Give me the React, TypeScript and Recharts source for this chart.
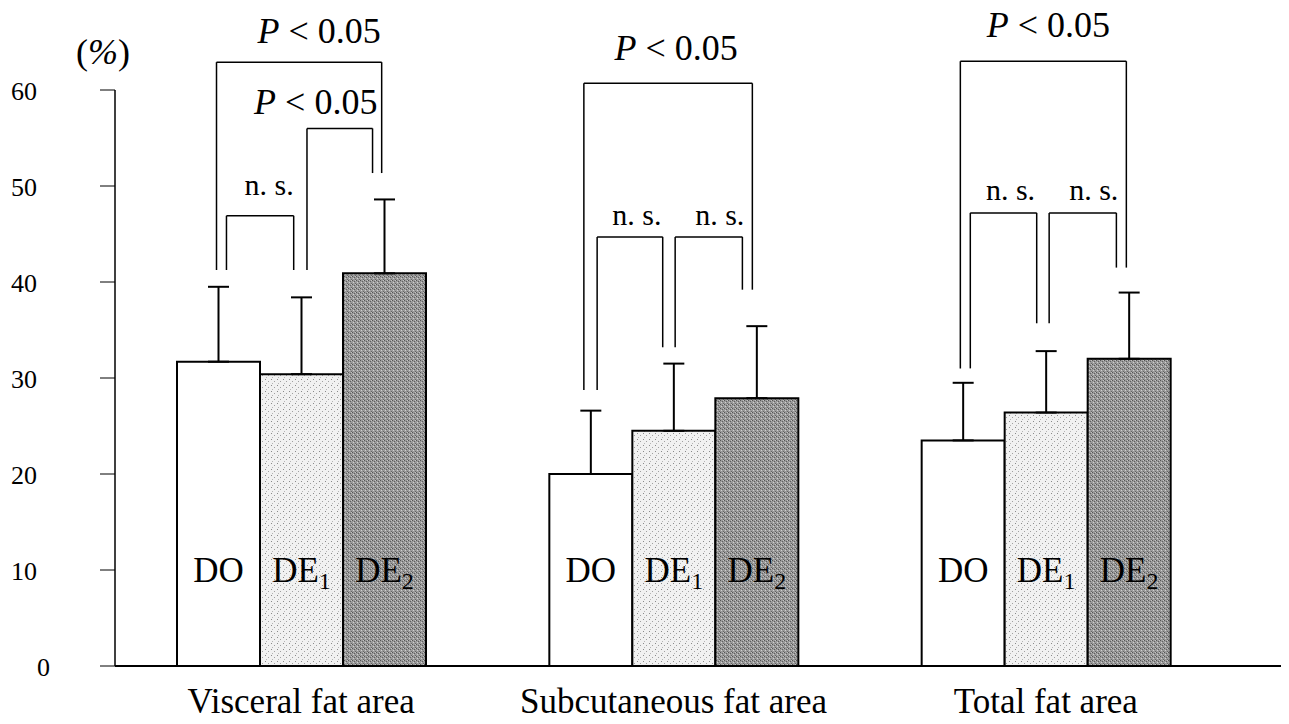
import React from 'react';
import { BarChart, Bar, XAxis, YAxis, ErrorBar, ReferenceLine, LabelList, Label } from 'recharts';

const categories = ['Visceral fat area', 'Subcutaneous fat area', 'Total fat area'];
const doMeans = [31.7, 20.0, 23.5];
const de1Means = [30.4, 24.5, 26.4];
const de2Means = [40.9, 27.9, 32.0];
const doSD = [7.8, 6.6, 6.0];
const de1SD = [8.0, 7.0, 6.4];
const de2SD = [7.7, 7.5, 6.9];
const yTicks = [0, 10, 20, 30, 40, 50, 60];

// significance brackets (group, bar from, bar to, top value, leg ends, label)
const brGroup = [0, 0, 0, 1, 1, 1, 2, 2, 2];
const brFrom = [0, 0, 1, 0, 0, 1, 0, 0, 1];
const brTo = [2, 1, 2, 2, 1, 2, 2, 1, 2];
const brTop = [62.9, 46.9, 56.0, 60.7, 44.7, 44.7, 63.0, 47.2, 47.2];
const brLeftEnd = [41.25, 41.25, 41.25, 28.75, 28.75, 33.2, 31.0, 31.0, 35.7];
const brRightEnd = [51.35, 41.25, 51.35, 39.2, 33.2, 39.2, 41.5, 35.7, 41.5];
const brLabel = ['P < 0.05', 'n. s.', 'P < 0.05', 'P < 0.05', 'n. s.', 'n. s.', 'P < 0.05', 'n. s.', 'n. s.'];

// bracket drawing tweaks (leg offsets in bar widths, label offsets in px)
const legOffL = [-0.02, 0.1, 0.07, -0.08, 0.08, 0.02, -0.03, 0.09, 0.04];
const legOffR = [-0.03, -0.09, -0.14, -0.05, -0.13, -0.17, -0.03, -0.11, -0.15];
const labelDx = [20, 9, -24, 8, 7, 11, 5, 7, 11];
const labelLift = [19, 21, 14, 23, 12, 12, 24, 13, 13];

const CHART_W = 1289;
const CHART_H = 724;
const Y_AXIS_W = 115;
const PAD_R = 55;
const MARGIN_R = 2;
const BAR = 83;
const BAND = (CHART_W - Y_AXIS_W - MARGIN_R - PAD_R) / 3;
const BAR_FRAC = BAR / BAND;
const FONT = '"Liberation Serif", "Times New Roman", serif';

const data = categories.map((name, i) => ({
  name,
  pos: i + 0.5,
  DO: doMeans[i],
  DE1: de1Means[i],
  DE2: de2Means[i],
  doErr: [0, doSD[i]],
  de1Err: [0, de1SD[i]],
  de2Err: [0, de2SD[i]],
}));

const barCenter = (g: number, b: number) => g + 0.5 + (b - 1) * BAR_FRAC;

const YTick = ({ x, y, payload }: any) => (
  <text x={payload.value === 0 ? x + 13 : x} y={y} dy={10} textAnchor="end" fontFamily={FONT} fontSize={26} fill="#000">
    {payload.value}
  </text>
);

const XTick = ({ x, y, payload }: any) => (
  <text x={x} y={y} dy={47} textAnchor="middle" fontFamily={FONT} fontSize={35} fill="#000">
    {payload.value}
  </text>
);

const barLabel = (main: string, sub: string) => (props: any) => {
  const vb = props.viewBox || props;
  const cx = vb.x + vb.width / 2;
  const base = vb.y + vb.height - 84;
  return (
    <text x={cx} y={base} textAnchor="middle" fontFamily={FONT} fontSize={35} fill="#000">
      {main}
      {sub && (
        <tspan fontSize={24} dy={7}>
          {sub}
        </tspan>
      )}
    </text>
  );
};

const bracketText = (text: string, dx: number, lift: number) => (props: any) => {
  const vb = props.viewBox;
  const x = vb.x + vb.width / 2 + dx;
  const y = vb.y - lift;
  if (text.startsWith('P')) {
    return (
      <text x={x} y={y} textAnchor="middle" fontFamily={FONT} fontSize={36} fill="#000">
        <tspan fontStyle="italic">P</tspan>
        {text.slice(1)}
      </text>
    );
  }
  return (
    <text x={x} y={y} textAnchor="middle" fontFamily={FONT} fontSize={30} fill="#000">
      {text}
    </text>
  );
};

const percentLabel = (props: any) => {
  const vb = props.viewBox;
  return (
    <text x={vb.x + vb.width - 12} y={vb.y - 26} textAnchor="middle" fontFamily={FONT} fontSize={36} fill="#000">
      (<tspan fontStyle="italic">%</tspan>)
    </text>
  );
};

const Brackets = () => {
  const lines: React.ReactNode[] = [];
  brGroup.forEach((g, i) => {
    const xl = barCenter(g, brFrom[i]) + legOffL[i] * BAR_FRAC;
    const xr = barCenter(g, brTo[i]) + legOffR[i] * BAR_FRAC;
    const common = { xAxisId: 'pos', stroke: '#000', strokeWidth: 1.5, ifOverflow: 'visible' as const, isFront: true };
    lines.push(
      <ReferenceLine key={`l${i}`} {...common} segment={[{ x: xl, y: brLeftEnd[i] }, { x: xl, y: brTop[i] }]} />,
      <ReferenceLine key={`r${i}`} {...common} segment={[{ x: xr, y: brRightEnd[i] }, { x: xr, y: brTop[i] }]} />,
      <ReferenceLine key={`t${i}`} {...common} segment={[{ x: xl, y: brTop[i] }, { x: xr, y: brTop[i] }]}>
        <Label content={bracketText(brLabel[i], labelDx[i], labelLift[i])} />
      </ReferenceLine>
    );
  });
  return lines;
};

export default function App() {
  return (
    <div style={{ width: CHART_W, height: CHART_H, margin: '-8px 0 0 -8px', background: '#fff' }}>
      <svg width={0} height={0} style={{ position: 'absolute' }}>
        <defs>
          <pattern id="de1Fill" width={6} height={6} patternUnits="userSpaceOnUse">
            <rect width={6} height={6} fill="#f1f1f1" />
            <rect x={1} y={1} width={1} height={1} fill="#8a8a8a" />
            <rect x={4} y={3} width={1} height={1} fill="#a0a0a0" />
            <rect x={2} y={5} width={1} height={1} fill="#b5b5b5" />
          </pattern>
          <pattern id="de2Fill" width={4} height={4} patternUnits="userSpaceOnUse">
            <rect width={4} height={4} fill="#9a9a9a" />
            <rect x={0} y={0} width={1} height={1} fill="#555" />
            <rect x={2} y={1} width={1} height={1} fill="#5f5f5f" />
            <rect x={1} y={2} width={1} height={1} fill="#cfcfcf" />
            <rect x={3} y={3} width={1} height={1} fill="#666" />
            <rect x={3} y={0} width={1} height={1} fill="#c2c2c2" />
          </pattern>
        </defs>
      </svg>
      <BarChart
        width={CHART_W}
        height={CHART_H}
        data={data}
        margin={{ top: 90, right: MARGIN_R, left: 0, bottom: 0 }}
        barSize={BAR}
        barGap={0}
      >
        <XAxis
          dataKey="name"
          height={58}
          padding={{ left: 0, right: PAD_R }}
          axisLine={{ stroke: '#000', strokeWidth: 2 }}
          tickLine={false}
          tickSize={0}
          tickMargin={0}
          tick={<XTick />}
          interval={0}
        />
        <XAxis
          xAxisId="pos"
          dataKey="pos"
          type="number"
          domain={[0, 3]}
          allowDataOverflow
          padding={{ left: 0, right: PAD_R }}
          hide
        />
        <YAxis
          width={Y_AXIS_W}
          domain={[0, 60]}
          ticks={yTicks}
          interval={0}
          axisLine={{ stroke: '#000', strokeWidth: 1.5 }}
          tickLine={{ stroke: '#000', strokeWidth: 1 }}
          tickSize={15}
          tickMargin={63}
          tick={<YTick />}
        >
          <Label content={percentLabel} />
        </YAxis>
        <Bar dataKey="DO" fill="#fff" stroke="#000" strokeWidth={2} isAnimationActive={false}>
          <ErrorBar dataKey="doErr" direction="y" width={10.5} stroke="#000" strokeWidth={2} isAnimationActive={false} />
          <LabelList content={barLabel('DO', '')} />
        </Bar>
        <Bar dataKey="DE1" fill="url(#de1Fill)" stroke="#000" strokeWidth={2} isAnimationActive={false}>
          <ErrorBar dataKey="de1Err" direction="y" width={10.5} stroke="#000" strokeWidth={2} isAnimationActive={false} />
          <LabelList content={barLabel('DE', '1')} />
        </Bar>
        <Bar dataKey="DE2" fill="url(#de2Fill)" stroke="#000" strokeWidth={2} isAnimationActive={false}>
          <ErrorBar dataKey="de2Err" direction="y" width={10.5} stroke="#000" strokeWidth={2} isAnimationActive={false} />
          <LabelList content={barLabel('DE', '2')} />
        </Bar>
        {Brackets()}
      </BarChart>
    </div>
  );
}
